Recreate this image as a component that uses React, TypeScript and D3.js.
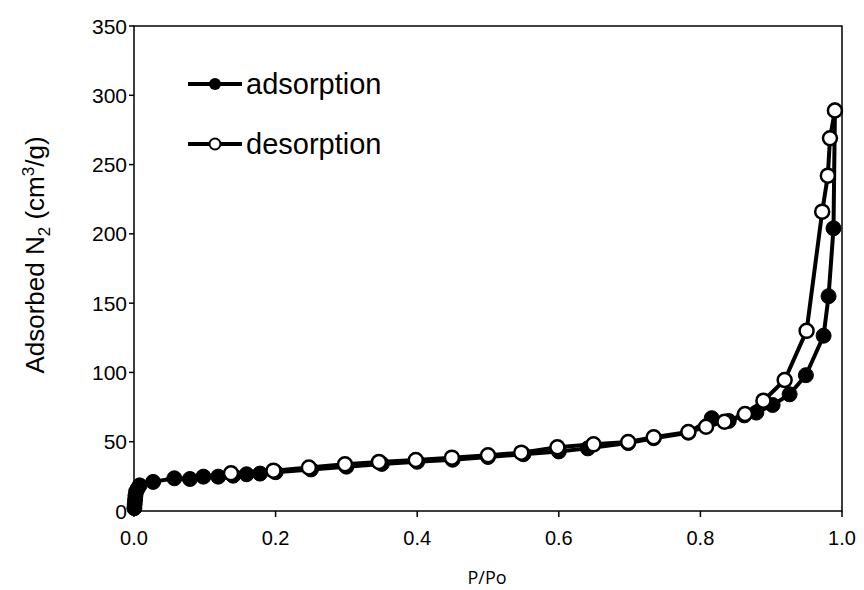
import React from 'react';
import * as d3 from 'd3';

// adsorption branch (filled markers)
const adsP = [0.0005, 0.001, 0.0015, 0.002, 0.003, 0.005, 0.008, 0.027, 0.057, 0.079, 0.098, 0.119, 0.14, 0.159, 0.178,
  0.2, 0.25, 0.3, 0.35, 0.4, 0.45, 0.5, 0.55, 0.6, 0.641, 0.698, 0.734, 0.783, 0.816, 0.84, 0.862, 0.879, 0.902, 0.926,
  0.949, 0.974, 0.981, 0.988, 0.99];
const adsV = [2, 5, 8, 11, 14, 16, 18.5, 21, 23.6, 23.1, 24.8, 24.8, 25.5, 26.5, 27,
  28, 30, 32, 34, 35.5, 37, 39, 41, 43, 45.2, 49, 52.5, 56.5, 67, 65, 69, 71, 76.5, 84.2,
  98, 126.5, 155, 204, 289];

// desorption branch (open markers)
const desP = [0.99, 0.983, 0.98, 0.972, 0.95, 0.919, 0.889, 0.863, 0.834, 0.808, 0.783, 0.734, 0.698, 0.649,
  0.598, 0.547, 0.5, 0.449, 0.398, 0.346, 0.298, 0.247, 0.197, 0.137];
const desV = [289, 269, 242, 216, 130, 94.5, 79.6, 70, 64.4, 60.8, 57, 53.2, 49.8, 48.1,
  46, 42.1, 40.2, 38.5, 36.8, 35.4, 33.7, 31.4, 29.1, 27.2];

const xTicks = [0, 0.2, 0.4, 0.6, 0.8, 1.0];
const yTicks = [0, 50, 100, 150, 200, 250, 300, 350];

const W = 864;
const H = 590;
const m = { left: 134, right: 842, top: 26, bottom: 511 };

export default function App() {
  const x = d3.scaleLinear().domain([0, 1]).range([m.left, m.right]);
  const y = d3.scaleLinear().domain([0, 350]).range([m.bottom, m.top]);

  const ads = adsP.map((p, i) => [p, adsV[i]] as [number, number]);
  const des = desP.map((p, i) => [p, desV[i]] as [number, number]);

  const line = d3.line<[number, number]>().x(d => x(d[0])).y(d => y(d[1]));

  const font = "'Liberation Sans', Arial, sans-serif";

  return (
    <div style={{ position: 'absolute', left: 0, top: 0 }}>
      <svg width={W} height={H} style={{ display: 'block', background: '#fff' }}>
        {/* frame */}
        <rect x={m.left} y={m.top} width={m.right - m.left} height={m.bottom - m.top}
          fill="none" stroke="#000" strokeWidth={1.5} />

        {/* y ticks */}
        {yTicks.map(t => (
          <g key={'y' + t}>
            <line x1={m.left - 5} x2={m.left} y1={y(t)} y2={y(t)} stroke="#000" strokeWidth={1.5} />
            <text x={127} y={y(t) + 7.5} textAnchor="end" fontFamily={font} fontSize={21} fill="#000">{t}</text>
          </g>
        ))}

        {/* x ticks */}
        {xTicks.map(t => (
          <g key={'x' + t}>
            <line x1={x(t)} x2={x(t)} y1={m.bottom} y2={m.bottom + 6} stroke="#000" strokeWidth={1.5} />
            <text x={x(t)} y={545} textAnchor="middle" fontFamily={font} fontSize={20} fill="#000">{t.toFixed(1)}</text>
          </g>
        ))}

        {/* axis titles */}
        <text x={487} y={584} textAnchor="middle" fontFamily="'Open Sans', sans-serif" fontSize={18} fill="#000">P/Po</text>
        <text transform="translate(44,255) rotate(-90)" textAnchor="middle" fontFamily={font} fontSize={26} fill="#000">
          Adsorbed N<tspan fontSize={17} dy={6}>2</tspan><tspan dy={-6}> (cm</tspan><tspan fontSize={17} dy={-10}>3</tspan><tspan dy={10}>/g)</tspan>
        </text>

        {/* adsorption */}
        <path d={line(ads) || ''} fill="none" stroke="#000" strokeWidth={4} strokeLinejoin="round" />
        {ads.map((d, i) => (
          <circle key={'a' + i} cx={x(d[0])} cy={y(d[1])} r={7.5} fill="#000" stroke="#000" strokeWidth={1} />
        ))}

        {/* desorption */}
        <path d={line(des) || ''} fill="none" stroke="#000" strokeWidth={4} strokeLinejoin="round" />
        {des.map((d, i) => (
          <circle key={'d' + i} cx={x(d[0])} cy={y(d[1])} r={7} fill="#fff" stroke="#000" strokeWidth={2.5} />
        ))}

        {/* legend */}
        <g>
          <line x1={188} x2={242} y1={84} y2={84} stroke="#000" strokeWidth={4} />
          <circle cx={215} cy={84} r={6} fill="#000" />
          <text x={246} y={94} fontFamily={font} fontSize={29} fill="#000">adsorption</text>
          <line x1={188} x2={242} y1={144} y2={144} stroke="#000" strokeWidth={4} />
          <circle cx={215} cy={144} r={5.5} fill="#fff" stroke="#000" strokeWidth={2} />
          <text x={246} y={154} fontFamily={font} fontSize={29} fill="#000">desorption</text>
        </g>
      </svg>
    </div>
  );
}
